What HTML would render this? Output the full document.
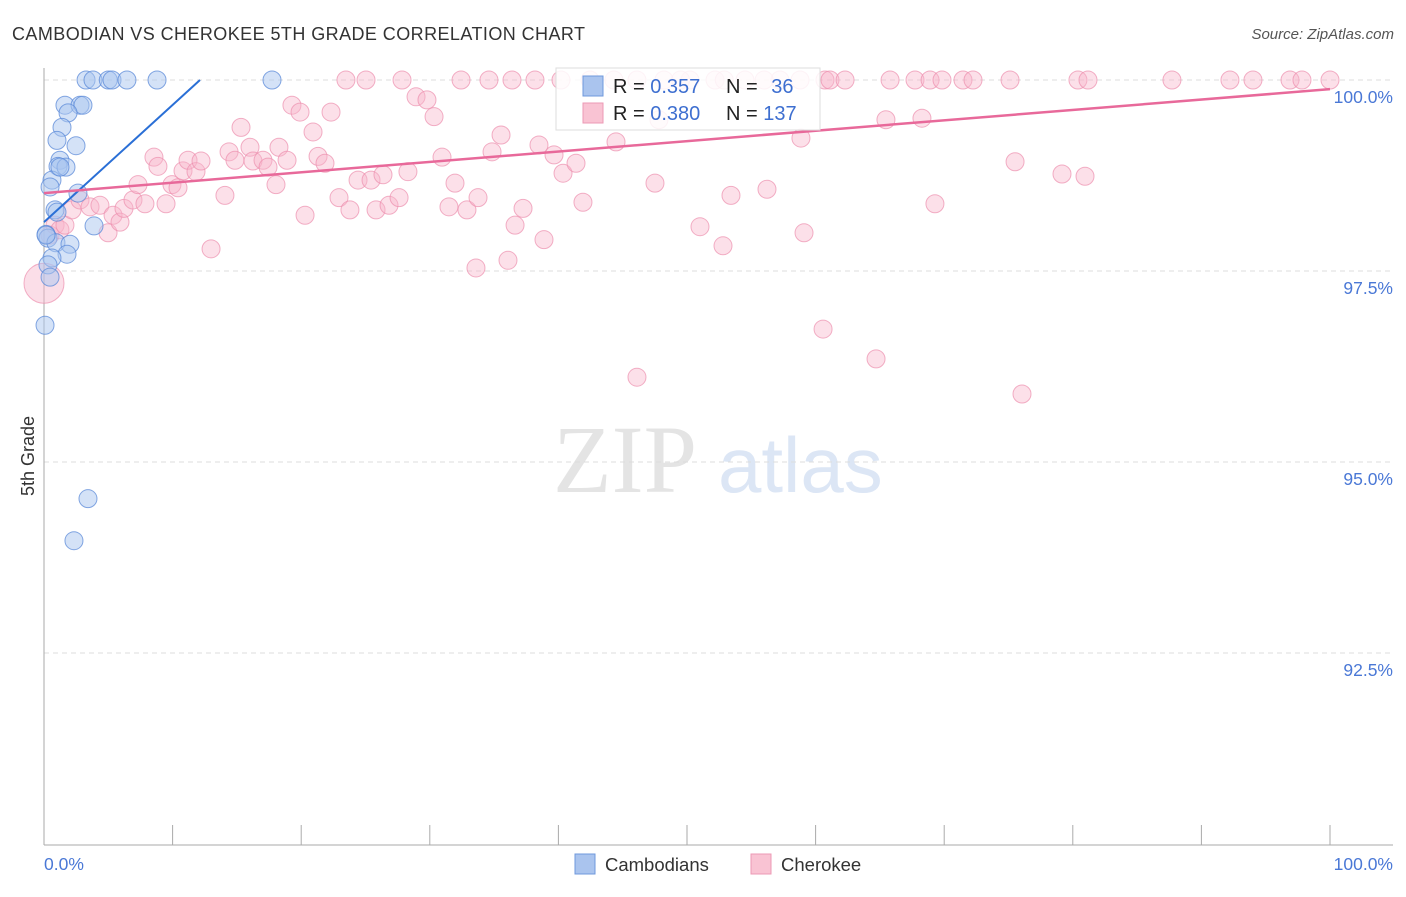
<!DOCTYPE html>
<html><head><meta charset="utf-8"><style>
body{margin:0;background:#fff;font-family:"Liberation Sans",sans-serif;}
svg text{font-family:"Liberation Sans",sans-serif;}
</style></head><body>
<svg id="c" width="1406" height="892" xmlns="http://www.w3.org/2000/svg">
<text x="12" y="40" font-size="18" fill="#333" textLength="573">CAMBODIAN VS CHEROKEE 5TH GRADE CORRELATION CHART</text>
<text x="1394" y="39" font-size="15" fill="#555" font-style="italic" text-anchor="end">Source: ZipAtlas.com</text>
<g>
<text x="553" y="492" font-size="96" fill="#e4e4e4" font-family="Liberation Serif" style="font-family:'Liberation Serif',serif">ZIP</text>
<text x="718" y="492" font-size="78" fill="#dce6f5">atlas</text>
</g>
<g id="grid"></g><g id="axes"></g><g id="pts"></g><g id="lines"></g>
<g>
<rect x="556" y="68" width="264" height="62" fill="#fff" fill-opacity="0.85" stroke="#ddd"/>
<rect x="583" y="76" width="20" height="20" fill="#aac4ee" stroke="#6f98dc"/>
<rect x="583" y="103" width="20" height="20" fill="#f9c3d3" stroke="#ec9ab5"/>
<text x="613" y="93" font-size="20" fill="#222">R = <tspan fill="#3e6fd0">0.357</tspan></text>
<text x="726" y="93" font-size="20" fill="#222">N = <tspan fill="#3e6fd0" dx="8">36</tspan></text>
<text x="613" y="120" font-size="20" fill="#222">R = <tspan fill="#3e6fd0">0.380</tspan></text>
<text x="726" y="120" font-size="20" fill="#222">N = <tspan fill="#3e6fd0">137</tspan></text>
</g>
<g>
<rect x="575" y="854" width="20" height="20" fill="#aac4ee" stroke="#6f98dc"/>
<text x="605" y="871" font-size="18.5" fill="#333">Cambodians</text>
<rect x="751" y="854" width="20" height="20" fill="#f9c3d3" stroke="#ec9ab5"/>
<text x="781" y="871" font-size="18.5" fill="#333">Cherokee</text>
</g>
</svg>
<script>
const yTicks=[100,97.5,95,92.5];
const yTickLabels=["100.0%","97.5%","95.0%","92.5%"];
const xLabels=["0.0%","100.0%"];
const blueX=[3.27,3.81,5.0,5.29,6.45,8.79,17.73,1.63,2.8,3.03,1.87,1.4,1.01,2.49,1.24,1.09,1.71,0.62,2.64,0.86,1.01,3.89,0.16,0.31,0.93,2.02,1.79,0.62,0.31,0.47,0.08,3.42,2.33,0.16,1.24,0.47];
const blueY=[100,100,100,100,100,100,100,99.67,99.67,99.67,99.57,99.38,99.21,99.14,98.95,98.87,98.86,98.69,98.52,98.3,98.27,98.09,97.98,97.93,97.87,97.85,97.72,97.67,97.58,97.42,96.79,94.52,93.97,97.97,98.86,98.6];
const pinkX=[23.48,25.04,27.84,32.43,34.6,36.39,38.18,42.46,44.32,46.11,48.21,50.23,52.18,54.51,57.23,58.79,60.73,61.12,62.29,65.79,67.73,68.9,69.83,71.46,72.24,75.12,80.4,81.18,87.71,92.22,94.01,96.89,97.82,100,40.2,49.5,52.9,56.0,
0.47,0.86,1.24,1.63,2.18,2.8,3.58,4.35,4.98,5.37,5.91,6.22,6.92,7.31,7.85,8.55,8.86,9.49,9.95,10.42,10.81,11.2,11.82,12.21,12.99,14.07,14.39,14.85,15.32,16.02,16.25,17.03,17.42,18.04,18.27,18.9,19.28,19.91,20.3,20.92,21.31,21.85,22.32,22.94,23.79,24.42,25.43,25.82,26.36,26.83,27.61,28.3,28.93,29.78,30.33,30.95,31.49,31.96,32.89,33.59,33.75,34.84,35.54,36.08,36.63,37.25,38.49,38.88,39.66,40.36,41.37,41.91,44.48,46.11,47.51,47.82,51.01,52.8,53.42,56.22,58.86,59.1,60.58,64.7,65.47,68.27,69.28,75.51,76.05,79.16,80.95];
const pinkY=[100,100,100,100,100,100,100,100,100,100,100,100,100,100,100,100,100,100,100,100,100,100,100,100,100,100,100,100,100,100,100,100,100,100,100,100,100,100,
97.97,98.1,98.04,98.1,98.3,98.43,98.34,98.36,98.0,98.23,98.14,98.32,98.43,98.63,98.38,98.99,98.87,98.38,98.63,98.59,98.81,98.95,98.8,98.94,97.79,98.49,99.06,98.95,99.38,99.12,98.94,98.95,98.86,98.63,99.12,98.95,99.67,99.58,98.23,99.32,99.0,98.91,99.58,98.46,98.3,98.69,98.69,98.3,98.76,98.36,98.46,98.8,99.78,99.74,99.52,98.99,98.34,98.65,98.3,97.54,98.46,99.06,99.28,97.64,98.1,98.32,99.15,97.91,99.02,98.78,98.91,98.4,99.19,96.11,98.65,99.48,98.08,97.83,98.49,98.57,99.24,98.0,96.74,96.35,99.48,99.5,98.38,98.93,95.89,98.77,98.74];
const bigPink=[0,97.34];
const blueTrend=[[0,98.14],[12.13,100]];
const pinkTrend=[[0,98.52],[100,99.88]];
const NS="http://www.w3.org/2000/svg";
const X0=44,XW=1286,Y0=80,YS=76.4;
const sx=v=>X0+v/100*XW, sy=v=>Y0+(100-v)*YS;
function mk(t,a,p){const e=document.createElementNS(NS,t);for(const k in a)e.setAttribute(k,a[k]);document.getElementById(p).appendChild(e);return e;}
yTicks.forEach((t,i)=>{
 const g=mk('line',{x1:X0,x2:1393,y1:sy(t),y2:sy(t),stroke:'#ddd','stroke-dasharray':'5,4'},'grid');
 
 
 const l=mk('text',{x:1393,y:sy(t)+23,'font-size':17.5,fill:'#4a78d6','text-anchor':'end'},'axes');
 l.textContent=yTickLabels[i];
 
 
});
const ya=mk('line',{x1:X0,x2:X0,y1:68,y2:845,stroke:'#aaa'},'axes');


const xa=mk('line',{x1:X0,x2:1393,y1:845,y2:845,stroke:'#aaa'},'axes');


for(let i=0;i<=10;i++){const t=mk('line',{x1:sx(i*10),x2:sx(i*10),y1:825,y2:845,stroke:'#aaa'},'axes');
 
 }
[[0,'start'],[100,'end']].forEach((p,i)=>{const t=mk('text',{x:i?1393:44,y:870,'font-size':17.5,fill:'#4a78d6','text-anchor':p[1]},'axes');t.textContent=xLabels[i];
 
 });
const yt=mk('text',{x:34,y:456,'font-size':18,fill:'#333','text-anchor':'middle',transform:'rotate(-90 34 456)'},'axes');
yt.textContent='5th Grade';


const bp=mk('circle',{cx:sx(bigPink[0]),cy:sy(bigPink[1]),r:20,fill:'#f7b6cb','fill-opacity':0.45,stroke:'#ec8fae','stroke-opacity':0.7},'pts');


pinkX.forEach((x,i)=>{const c=mk('circle',{cx:sx(x),cy:sy(pinkY[i]),r:9,fill:'#f7b6cb','fill-opacity':0.42,stroke:'#ec8fae','stroke-opacity':0.7},'pts');
 
 });
blueX.forEach((x,i)=>{const c=mk('circle',{cx:sx(x),cy:sy(blueY[i]),r:9,fill:'#a9c6f0','fill-opacity':0.5,stroke:'#5b8ad8','stroke-opacity':0.75},'pts');
 
 });
const bl=mk('line',{x1:sx(blueTrend[0][0]),y1:sy(blueTrend[0][1]),x2:sx(blueTrend[1][0]),y2:sy(blueTrend[1][1]),stroke:'#2a6fd6','stroke-width':2},'lines');


const pl=mk('line',{x1:sx(pinkTrend[0][0]),y1:sy(pinkTrend[0][1]),x2:sx(pinkTrend[1][0]),y2:sy(pinkTrend[1][1]),stroke:'#e8699a','stroke-width':2.5},'lines');


</script>
</body></html>
